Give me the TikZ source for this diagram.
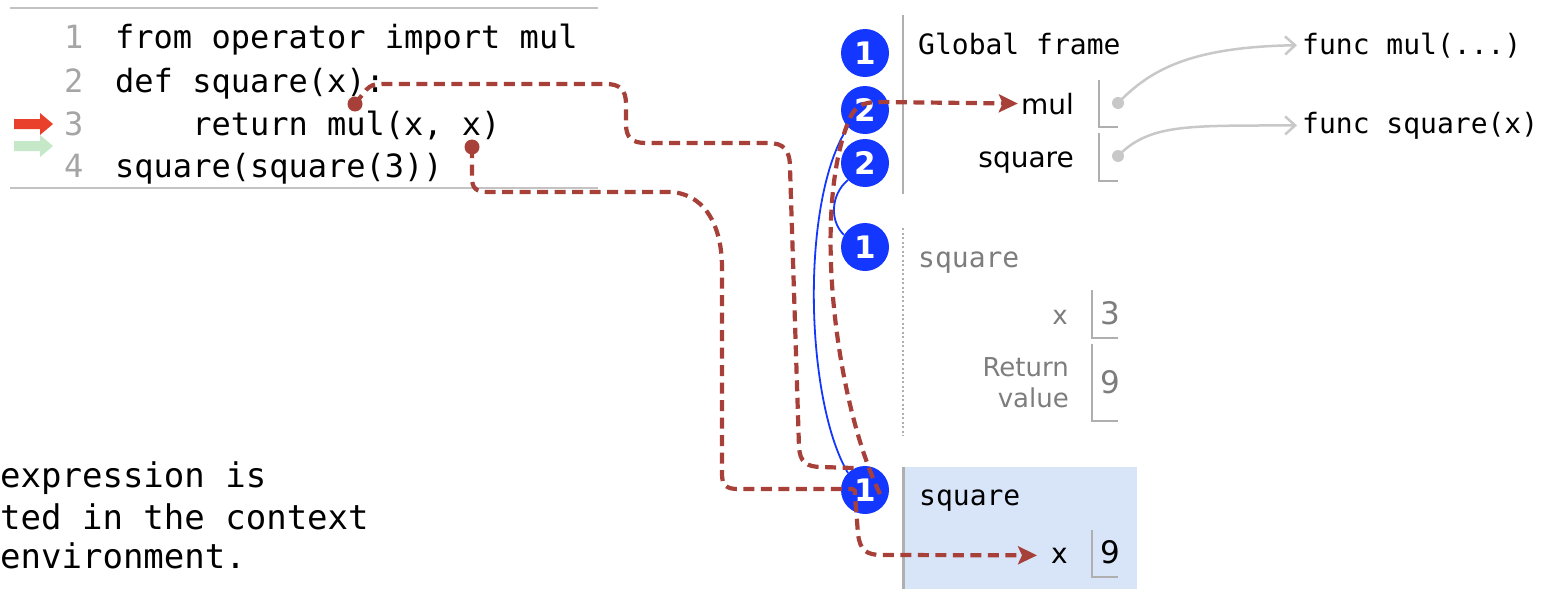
\documentclass[tikz,border=0pt]{standalone}
\usepackage{fontspec}
\setmainfont{DejaVu Sans}
\newfontfamily\codefont{DejaVu Sans Mono}
\usetikzlibrary{arrows.meta}

\definecolor{callblue}{RGB}{20,55,255}
\definecolor{linkred}{RGB}{168,64,58}
\definecolor{framebg}{RGB}{216,229,249}
\definecolor{rulegray}{RGB}{175,175,175}
\definecolor{panelrule}{RGB}{195,195,195}
\definecolor{ptrgray}{RGB}{200,200,200}
\definecolor{dimtext}{RGB}{125,125,125}
\definecolor{lineno}{RGB}{165,165,165}
\definecolor{curline}{RGB}{232,64,42}
\definecolor{nextline}{RGB}{197,232,200}

\begin{document}
\begin{tikzpicture}[x=1pt,y=-1pt,
  code/.style={font=\codefont\fontsize{32}{38}\selectfont, anchor=base west, inner sep=0pt},
  lnum/.style={code, text=lineno},
  note/.style={font=\codefont\fontsize{34}{41}\selectfont, anchor=base west, inner sep=0pt},
  hdr/.style={font=\codefont\fontsize{28}{34}\selectfont, anchor=base west, inner sep=0pt},
  varname/.style={font=\fontsize{28}{31}\selectfont, anchor=base east, inner sep=0pt, align=right},
  oldname/.style={varname, font=\fontsize{26}{31}\selectfont, text=dimtext},
  varval/.style={font=\fontsize{31}{36}\selectfont, anchor=base west, inner sep=0pt},
  callnum/.style={circle, fill=callblue, text=white, inner sep=0pt, minimum size=48pt,
    font=\bfseries\fontsize{31}{31}\selectfont},
  ptrdot/.style={circle, fill=ptrgray, inner sep=0pt, minimum size=12pt},
  srcdot/.style={circle, fill=linkred, inner sep=0pt, minimum size=15pt},
  ptr/.style={draw=ptrgray, line width=2.5pt, -{Straight Barb[length=10pt,width=18pt]}},
  slot/.style={draw=rulegray, line width=2pt},
  link/.style={draw=linkred, line width=4.2pt, dash pattern=on 11pt off 6.5pt},
  linkhead/.style={-{Stealth[length=19pt,width=18pt,inset=4pt]}},
  bluelink/.style={draw=callblue, line width=1.8pt},
]
\useasboundingbox (0,0) rectangle (1545,589);

% highlighted frame background
\fill[framebg] (903,467) rectangle (1137,589);

% code panel
\draw[panelrule, line width=2pt] (10,8) -- (598,8);
\draw[panelrule, line width=2pt] (10,188) -- (598,188);
\node[lnum] (n1) at (64,48) {1};
\node[lnum] (n2) at (64,92) {2};
\node[lnum] (n3) at (64,135) {3};
\node[lnum] (n4) at (64,177) {4};
\node[code] (l1) at (115,48) {from operator import mul};
\node[code] (l2) at (115,92) {def square(x):};
\node[code] (l3) at (115,135) {\phantom{xxxx}return mul(x, x)};
\node[code] (l4) at (115,177) {square(square(3))};
\fill[curline] (14,119) -- (40,119) -- (40,113) -- (53,124) -- (40,135) -- (40,129) -- (14,129) -- cycle;
\fill[nextline] (14,141) -- (40,141) -- (40,135) -- (53,146) -- (40,157) -- (40,151) -- (14,151) -- cycle;

% explanatory note
\node[note] (t1) at (0,487) {expression is};
\node[note] (t2) at (0,529) {ted in the context};
\node[note] (t3) at (0,568) {environment.};

% global frame
\draw[rulegray, line width=2.5pt] (903,15) -- (903,194);
\node[hdr] (gf) at (918,54) {Global frame};
\node[varname] (gmul) at (1074,114) {mul};
\node[varname] (gsq) at (1074,167) {square};
\draw[slot] (1099,80) -- (1099,127) -- (1118,127);
\draw[slot] (1099,133) -- (1099,181) -- (1118,181);
\node[ptrdot] (pmul) at (1118,103) {};
\node[ptrdot] (psq) at (1118,156) {};
\node[hdr] (fmul) at (1302,54) {func mul(...)};
\node[hdr] (fsq) at (1302,133) {func square(x)};
\draw[ptr, shorten >=5pt] (pmul.center) .. controls (1150,70) and (1190,47) .. (fmul.west);
\draw[ptr, shorten >=5pt] (psq.center) .. controls (1150,123) and (1190,126) .. (fsq.west);

% finished call frame
\draw[rulegray, line width=2pt, dash pattern=on 2pt off 2.5pt] (903,228) -- (903,436);
\node[hdr, text=dimtext] (f1) at (918,267) {square};
\node[oldname] (f1x) at (1068,324) {x};
\node[varval, text=dimtext] (f1xv) at (1100,324) {3};
\draw[slot] (1092,290) -- (1092,338) -- (1118,338);
\node[oldname] (f1r) at (1069,407) {Return\\value};
\node[varval, text=dimtext] (f1rv) at (1100,393) {9};
\draw[slot] (1092,344) -- (1092,421) -- (1118,421);

% active call frame
\draw[rulegray, line width=3pt] (903,467) -- (903,589);
\node[hdr] (f2) at (919,505) {square};
\node[varname] (f2x) at (1068,563) {x};
\node[varval] (f2xv) at (1100,563) {9};
\draw[slot] (1092,530) -- (1092,577) -- (1118,577);

% step markers
\node[callnum] (c1) at (865,53) {1};
\node[callnum] (c2a) at (865,110) {2};
\node[callnum] (c2b) at (865,163) {2};
\node[callnum] (c1s) at (865,247) {1};
\node[callnum] (c1b) at (865,490) {1};

\draw[bluelink] (c2a.225) .. controls (800,200) and (805,400) .. (c1b.135);
\draw[bluelink] (c2b.225) .. controls (830,195) and (830,222) .. (c1s.150);

% name resolution links
\node[srcdot] (dA) at (355,104) {};
\node[srcdot] (dB) at (472,147) {};

\draw[link] (dA.center) -- (366,90) .. controls (371,85) and (374,84) .. (382,84)
  -- (606,84) .. controls (620,84) and (626,90) .. (626,104)
  -- (626,124) .. controls (626,138) and (632,143) .. (646,143)
  -- (768,143) .. controls (784,143) and (790,150) .. (790,168)
  -- (799,447) .. controls (800,462) and (806,467) .. (822,467)
  -- (c1b.115);

\draw[link, linkhead] (dB.center) -- (472,178) .. controls (472,188) and (476,192) .. (488,192)
  -- (668,192) .. controls (702,192) and (722,222) .. (722,268)
  -- (722,474) .. controls (722,485) and (726,489) .. (738,489)
  -- (852,489) .. controls (855,489) and (855,491) .. (855,495)
  -- (858,534) .. controls (860,550) and (866,555) .. (882,555)
  -- ([xshift=-14pt]f2x.west);

\draw[link, linkhead] ([shift={(15,4)}]c1b.center) .. controls (835,400) and (812,210) .. (849,120) .. controls (855,106) and (862,102) .. (880,102) -- ([xshift=-3pt]gmul.west);

\end{tikzpicture}
\end{document}
